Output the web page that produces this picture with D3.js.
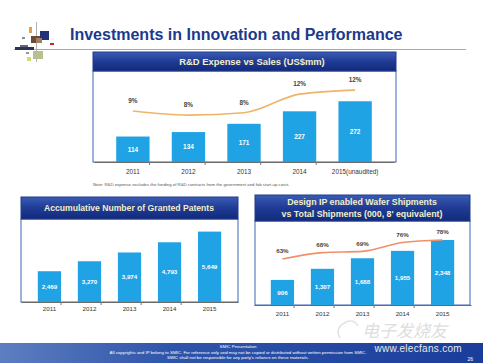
<!DOCTYPE html>
<html><head><meta charset="utf-8">
<script src="https://cdn.jsdelivr.net/npm/d3@7"></script>
<style>body{margin:0;background:#fff}svg{display:block;font-family:"Liberation Sans",Arial,sans-serif}</style>
</head><body><svg id="c" width="483" height="363"></svg>
<script>
const years = ["2011","2012","2013","2014","2015"];
const rdLabels = ["2011","2012","2013","2014","2015(unaudited)"];
const rdExpense = [114,134,171,227,272];
const rdPct = [8.6,7.9,8.3,11.5,12.2];
const patents = [2469,3270,3974,4793,5649];
const wafer = [906,1307,1688,1955,2348];
const waferPct = [63,68,69,76,78];

const svg = d3.select("#c");
const defs = svg.append("defs");
const hg = defs.append("linearGradient").attr("id","hg").attr("x1",0).attr("y1",0).attr("x2",0).attr("y2",1);
hg.append("stop").attr("offset","0").attr("stop-color","#3a5cb4");
hg.append("stop").attr("offset","0.5").attr("stop-color","#1f3b95");
hg.append("stop").attr("offset","1").attr("stop-color","#122a7c");
const fg = defs.append("linearGradient").attr("id","fg").attr("x1",0).attr("y1",0).attr("x2",1).attr("y2",0);
fg.append("stop").attr("offset","0").attr("stop-color","#5d7ec0");
fg.append("stop").attr("offset","0.35").attr("stop-color","#2f55aa");
fg.append("stop").attr("offset","1").attr("stop-color","#1a3d9a");

const BAR = "#1fa3e4", NAVY = "#1c3a8c";

// title area
svg.append("text").attr("x",70).attr("y",40).attr("font-size",16).attr("font-weight","bold").attr("fill",NAVY).text("Investments in Innovation and Performance");
svg.append("line").attr("x1",14).attr("x2",466).attr("y1",49.5).attr("y2",49.5).attr("stroke","#a8a8a8");
svg.append("line").attr("x1",36.5).attr("x2",36.5).attr("y1",22).attr("y2",62).attr("stroke","#b0b0b0");
const logo = [[29,27,3,6,"#e8a040"],[40,31,9,9,"#23307a"],[31,36,9,7,"#6b4a3a"],[36,38,6,5,"#a08060"],[50,43,4,2,"#d02020"],[22,37,3,2,"#8a8aa0"],[15,47,19,3,"#2a3550"],[20,45,8,2,"#606880"],[33,51,10,8,"#b8c090"],[26,52,3,2,"#9090b0"],[27,57,4,4,"#c8e070"]];
svg.append("g").selectAll("rect").data(logo).join("rect").attr("x",d=>d[0]).attr("y",d=>d[1]).attr("width",d=>d[2]).attr("height",d=>d[3]).attr("fill",d=>d[4]);

function panel(x0,x1,hy0,hy1,yb,lines,fs,tcx){
  svg.append("rect").attr("x",x0).attr("y",hy1).attr("width",x1-x0).attr("height",yb-hy1).attr("fill","#fff").attr("stroke","#3a66b8").attr("stroke-width",1);
  svg.append("rect").attr("x",x0).attr("y",hy0).attr("width",x1-x0).attr("height",hy1-hy0).attr("fill","url(#hg)").attr("stroke","#203a8a");
  const n = lines.length, lh = fs*1.3, cy = (hy0+hy1)/2;
  lines.forEach((t,i)=>svg.append("text").attr("x",tcx).attr("y",cy+(i-(n-1)/2)*lh).attr("dy","0.35em").attr("text-anchor","middle")
    .attr("font-size",fs).attr("font-weight","bold").attr("fill","#f3efc8").text(t));
}

function bars(cats,labels,vals,x,y,fmt,fsVal,fsYear,yearY){
  const g = svg.append("g");
  const y0 = y.range()[0];
  g.selectAll("rect").data(vals).join("rect").attr("x",(d,i)=>x(cats[i])).attr("width",x.bandwidth())
    .attr("y",d=>y(d)).attr("height",d=>y0-y(d)).attr("fill",BAR);
  g.selectAll("text.v").data(vals).join("text").attr("class","v").attr("x",(d,i)=>x(cats[i])+x.bandwidth()/2)
    .attr("y",d=>(y(d)+y0)/2).attr("dy","0.35em").attr("text-anchor","middle").attr("font-size",fsVal).attr("font-weight","bold").attr("fill","#fff").text(fmt);
  const ax = d3.axisBottom(x).tickSize(0).tickPadding(0).tickFormat((d,i)=>labels[i]);
  const a = svg.append("g").attr("transform",`translate(0,${y0})`).call(ax);
  a.select(".domain").attr("stroke","#6a6a6a");
  a.selectAll("text").attr("font-size",fsYear).attr("fill","#333").attr("font-family","Liberation Sans, Arial").attr("y",yearY).attr("dy","0.35em");
  const step = x.step(), st = x.range()[0];
  svg.append("g").selectAll("line").data(d3.range(1,cats.length)).join("line")
    .attr("x1",i=>st+i*step).attr("x2",i=>st+i*step).attr("y1",y0).attr("y2",y0+3).attr("stroke","#777");
}

function pctLine(cats,vals,x,yp,color,off,fs){
  const line = d3.line().x((d,i)=>x(cats[i])+x.bandwidth()/2).y(d=>yp(d)).curve(d3.curveMonotoneX);
  svg.append("path").attr("d",line(vals)).attr("fill","none").attr("stroke",color).attr("stroke-width",1.6);
  svg.append("g").selectAll("text").data(vals).join("text").attr("x",(d,i)=>x(cats[i])+x.bandwidth()/2)
    .attr("y",d=>yp(d)-off).attr("dy","0.35em").attr("text-anchor","middle").attr("font-size",fs).attr("font-weight","bold").attr("fill","#444")
    .text(d=>Math.round(d)+"%");
}

// Panel 1: R&D
panel(93,396,52,71,162,["R&D Expense vs Sales (US$mm)"],9.4,252);
const x1 = d3.scaleBand().domain(years).range([94,394]).padding(0.4);
const y1 = d3.scaleLinear().domain([0,300]).range([162,95]);
const yp1 = d3.scaleLinear().domain([0,16]).range([161,68]);
bars(years,rdLabels,rdExpense,x1,y1,d=>d,6.4,6.4,10);
pctLine(years,rdPct,x1,yp1,"#f0b468",10,6.4);
svg.append("text").attr("x",93).attr("y",186).attr("font-size",4.3).attr("fill","#555")
  .text("Note: R&D expense excludes the funding of R&D contracts from the government and fab start-up costs");

// Panel 2: Patents
panel(21,238,197,219,302,["Accumulative  Number of Granted Patents"],8.6,129);
const x2 = d3.scaleBand().domain(years).range([21,238]).padding(0.42);
const y2 = d3.scaleLinear().domain([0,6500]).range([302,221]);
bars(years,years,patents,x2,y2,d3.format(","),6.2,6.2,7);

// Panel 3: Wafer
panel(255,470,195,221,305,["Design IP enabled Wafer Shipments","vs Total  Shipments (000, 8' equivalent)"],8.8,362);
const x3 = d3.scaleBand().domain(years).range([254,471]).padding(0.42);
const y3 = d3.scaleLinear().domain([0,2600]).range([305,233]);
const yp3 = d3.scaleLinear().domain([40,90]).range([288.2,224.7]);
bars(years,years,wafer,x3,y3,d3.format(","),6.2,6.2,9);
pctLine(years,waferPct,x3,yp3,"#f0906a",8,6.2);

// watermark
svg.append("text").attr("x",362).attr("y",337).attr("font-size",17).attr("font-style","italic").attr("fill","#dedede")
  .attr("font-family","Noto Sans CJK SC").text("电子发烧友");
svg.append("path").attr("d","M340,338 q-6,-10 6,-16 q8,-3 12,4").attr("fill","none").attr("stroke","#e2e2e2").attr("stroke-width",1.5);

// footer
svg.append("rect").attr("x",0).attr("y",343).attr("width",483).attr("height",20).attr("fill","url(#fg)");
const ft = [["SMIC  Presentation",348],["All copyrights and IP belong to SMIC. For reference only and may not be copied or distributed without written  permission from SMIC.",353.5],["SMIC  shall not be responsible for any party's reliance on these materials.",358.5]];
svg.append("g").selectAll("text").data(ft).join("text").attr("x",238).attr("y",d=>d[1]).attr("text-anchor","middle")
  .attr("font-size",4.4).attr("fill","#fff").text(d=>d[0]);
svg.append("text").attr("x",473).attr("y",360.5).attr("text-anchor","end").attr("font-size",5).attr("fill","#fff").text("26");
svg.append("text").attr("x",462).attr("y",352).attr("text-anchor","end").attr("font-size",10).attr("fill","#e8e8e8").attr("letter-spacing",0.3).text("www.elecfans.com");
</script></body></html>
